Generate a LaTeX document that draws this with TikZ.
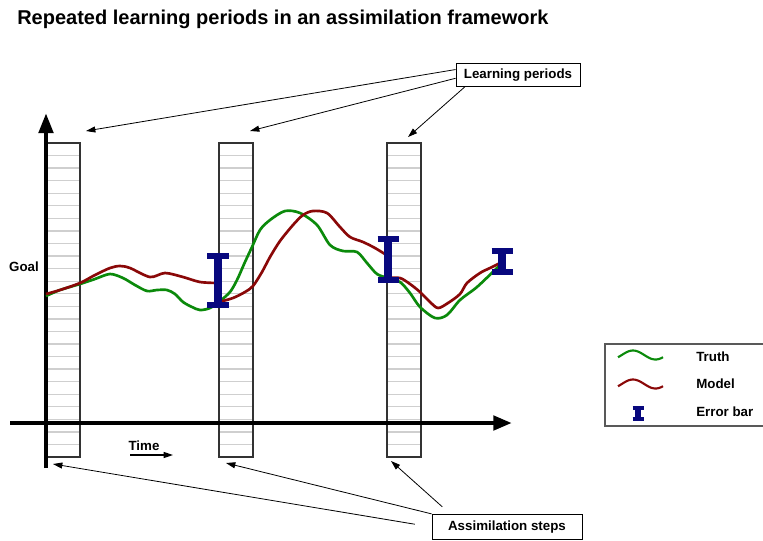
\documentclass[tikz,border=0pt]{standalone}
\usepackage{fontspec}
\setmainfont{Liberation Sans}
\usepackage{tikz}
\usetikzlibrary{arrows.meta,positioning}
\definecolor{truthgreen}{HTML}{0B8A0B}
\definecolor{modelred}{HTML}{8A0808}
\definecolor{errnavy}{HTML}{08087E}
\definecolor{stripegray}{HTML}{CFCFCF}

% error bar: x, top, bottom, half width of the serifs
\newcommand{\errbar}[4]{%
  \draw[errstem] (#1,#2) -- (#1,#3);
  \draw[errserif] (#1-#4,#2) -- (#1+#4,#2);
  \draw[errserif] (#1-#4,#3) -- (#1+#4,#3);
}

\begin{document}
\begin{tikzpicture}[
    x=0.75pt, y=-0.75pt,
    font=\bfseries\fontsize{10}{12}\selectfont,
    axisline/.style={line width=3.4pt},
    periodbox/.style={draw=black!80, line width=0.8pt},
    stripe/.style={stripegray, line width=1pt},
    truthline/.style={truthgreen, line width=2pt},
    modelline/.style={modelred, line width=2pt},
    errstem/.style={errnavy, line width=6pt},
    errserif/.style={errnavy, line width=4pt},
    callout/.style={-{Triangle[length=7pt,width=4.5pt]}, line width=0.6pt},
    labelbox/.style={draw, fill=white, line width=0.7pt, inner sep=0pt},
]
\useasboundingbox (0,0) rectangle (763,540);

% Title
\node[anchor=base west, inner sep=0pt, font=\bfseries\fontsize{15}{18}\selectfont] (title) at (17,24) {Repeated learning periods in an assimilation framework};

% ============================================================
% LEARNING PERIODS
% ============================================================
\foreach \xl/\xr in {46/80, 219/253, 387/421} {
    \fill[white] (\xl,143) rectangle (\xr,457);
    \foreach \k in {1,...,24}
        \draw[stripe] (\xl,{143+12.56*\k}) -- (\xr,{143+12.56*\k});
    \draw[periodbox] (\xl,143) rectangle (\xr,457);
}

% ============================================================
% AXES
% ============================================================
\draw[axisline, -{Triangle[length=15pt,width=10.5pt]}] (46,468) -- (46,113);
\draw[axisline, -{Triangle[length=14pt,width=10.5pt]}] (10,423) -- (512,423);
\node (goal) at (24,267) {Goal};
\node (time) at (144,446) {Time};
\coordinate (time0) at (130,455);
\coordinate (time1) at (173,455);
\draw[-{Triangle[length=7pt,width=4.5pt]}, line width=0.8pt] (time0) -- (time1);

% ============================================================
% TRUTH AND MODEL
% ============================================================
\draw[truthline] plot[smooth] coordinates {
    (46,296) (60,290) (80,284) (95,279) (110,274) (123,278) (135,285) (147,291)
    (157,290) (167,290) (175,294) (183,302) (192,307) (200,310) (210,308) (220,301)
    (230,292) (237,280) (245,262) (252,247) (260,230) (270,220) (285,211) (300,213)
    (317,225) (330,245) (343,251) (357,252) (367,263) (377,274) (388,278) (400,282)
    (410,293) (420,307) (435,318) (447,315) (460,300) (477,287) (497,268) (500,266)};

% model is reset at each assimilation step
\draw[modelline] plot[smooth] coordinates {
    (46,294) (60,290) (80,283) (95,275) (110,268) (120,266) (130,268) (150,277)
    (165,273) (183,277) (200,282) (218,283)};
\draw[modelline] plot[smooth] coordinates {
    (219,302) (233,298) (245,292) (253,286) (262,272) (270,257) (280,241) (293,225)
    (303,215) (313,211) (327,213) (340,227) (350,237) (363,242) (375,248) (388,256)};
\draw[modelline] plot[smooth] coordinates {
    (388,278) (400,278) (410,284) (420,292) (430,302) (438,308) (448,303) (460,294)
    (467,283) (480,273) (490,268) (500,263)};

% Error bars
\errbar{218}{256}{305}{11}
\errbar{388}{239}{280}{10.5}
\errbar{502}{251}{272}{10.5}

% ============================================================
% CALLOUTS
% ============================================================
\node[labelbox, minimum width=93pt, minimum height=17pt] (lp) at (518,75) {Learning periods};
\coordinate (lp1) at (86,131);
\coordinate (lp2) at (250,131);
\coordinate (lp3) at (408,137);
\draw[callout] (lp.175) -- (lp1);
\draw[callout] (lp.183) -- (lp2);
\draw[callout] ([xshift=7pt]lp.south west) -- (lp3);

\node[labelbox, minimum width=112.5pt, minimum height=19pt] (as) at (507,527) {Assimilation steps};
\coordinate (as1) at (53,464);
\coordinate (as2) at (226,463);
\coordinate (as3) at (391,461);
\draw[callout, shorten <=12.75pt] (as.west) -- (as1);
\draw[callout] (as.north west) -- (as2);
\draw[callout, shorten <=8pt] ([xshift=14pt]as.north west) -- (as3);

% ============================================================
% LEGEND
% ============================================================
\draw[draw=black!65, line width=0.8pt] (605,344) rectangle (766,426);
\draw[truthline, line width=1.6pt] plot[smooth, domain=-30:330, samples=30] ({618+45*(\x+30)/360},{355-4.5*sin(\x)});
\draw[modelline, line width=1.6pt] plot[smooth, domain=-30:330, samples=30] ({618+45*(\x+30)/360},{384-4.5*sin(\x)});
\begin{scope}[errstem/.append style={line width=3.8pt}, errserif/.append style={line width=2.6pt}]
\errbar{638}{408}{419}{5.5}
\end{scope}
\node[anchor=west, inner sep=0pt] (lgtruth) at (696,357) {Truth};
\node[anchor=west, inner sep=0pt] (lgmodel) at (696,384) {Model};
\node[anchor=west, inner sep=0pt] (lgerr) at (696,412) {Error bar};

\end{tikzpicture}
\end{document}
